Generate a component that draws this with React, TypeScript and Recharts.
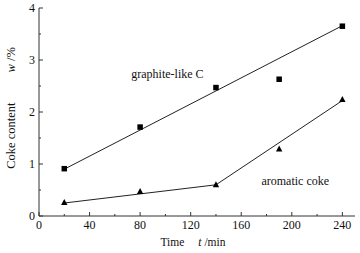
import React from "react";
import {
  ComposedChart,
  Scatter,
  XAxis,
  YAxis,
  ReferenceDot,
} from "recharts";

const timeMin = [20, 80, 140, 190, 240];
const graphiteC = [0.91, 1.71, 2.47, 2.63, 3.65];
const aromaticCoke = [0.26, 0.47, 0.6, 1.29, 2.24];

// fitted lines drawn through the points
const graphiteFitT = [20, 240];
const graphiteFitW = [0.9, 3.66];
const aromaticFitT = [20, 140, 240];
const aromaticFitW = [0.25, 0.6, 2.22];

const xTicks = [0, 20, 40, 60, 80, 100, 120, 140, 160, 180, 200, 220, 240];
const yTicks = [0, 0.5, 1, 1.5, 2, 2.5, 3, 3.5, 4];

const FONT = "Liberation Serif";
const AXIS = "#333";

const toPoints = (ts: number[], ws: number[]) =>
  ts.map((t, i) => ({ t, w: ws[i] }));

const graphiteData = toPoints(timeMin, graphiteC);
const aromaticData = toPoints(timeMin, aromaticCoke);
const graphiteFit = toPoints(graphiteFitT, graphiteFitW);
const aromaticFit = toPoints(aromaticFitT, aromaticFitW);

const XTick = (props: any) => {
  const { x, y, payload } = props;
  const major = payload.value % 40 === 0;
  return (
    <g>
      <line x1={x} x2={x} y1={y} y2={y - (major ? 4 : 2)} stroke={AXIS} />
      {major && (
        <text x={x} y={y + 13} textAnchor="middle" fontSize={12} style={{ fontFamily: FONT }} fill="#111">
          {payload.value}
        </text>
      )}
    </g>
  );
};

const YTick = (props: any) => {
  const { x, y, payload } = props;
  const major = Number.isInteger(payload.value);
  return (
    <g>
      <line x1={x} x2={x + (major ? 4 : 2)} y1={y} y2={y} stroke={AXIS} />
      {major && (
        <text x={x - 4} y={y + 4} textAnchor="end" fontSize={12} style={{ fontFamily: FONT }} fill="#111">
          {payload.value}
        </text>
      )}
    </g>
  );
};

const Square = (p: any) => (
  <rect x={p.cx - 2.75} y={p.cy - 2.75} width={5.5} height={5.5} fill="#000" />
);

const Triangle = (p: any) => (
  <polygon
    points={`${p.cx},${p.cy - 3.5} ${p.cx - 3.2},${p.cy + 2.5} ${p.cx + 3.2},${p.cy + 2.5}`}
    fill="#000"
  />
);

const NoDot = () => <g />;

const TextAt = (text: string) => (p: any) => (
  <text x={p.cx} y={p.cy} fontSize={12} style={{ fontFamily: FONT }} fill="#111">
    {text}
  </text>
);

export default function App() {
  return (
    <div style={{ position: "absolute", left: 0, top: 0, background: "#fff", fontFamily: FONT }}>
      <ComposedChart
        width={360}
        height={253}
        margin={{ top: 8, right: 5, bottom: 0, left: 0 }}
      >
        <XAxis
          xAxisId="x"
          dataKey="t"
          type="number"
          domain={[0, 250]}
          ticks={xTicks}
          interval={0}
          height={37}
          tickSize={0}
          tickMargin={0}
          tick={<XTick />}
          axisLine={{ stroke: AXIS }}
        />
        <XAxis
          xAxisId="top"
          orientation="top"
          type="number"
          domain={[0, 250]}
          height={0}
          tick={false}
          tickLine={false}
          axisLine={{ stroke: AXIS }}
        />
        <YAxis
          yAxisId="y"
          dataKey="w"
          type="number"
          domain={[0, 4]}
          ticks={yTicks}
          interval={0}
          width={39}
          tickSize={0}
          tickMargin={0}
          tick={<YTick />}
          axisLine={{ stroke: AXIS }}
        />
        <YAxis
          yAxisId="right"
          orientation="right"
          type="number"
          domain={[0, 4]}
          width={0}
          tick={false}
          tickLine={false}
          axisLine={{ stroke: AXIS }}
        />
        <Scatter
          xAxisId="x"
          yAxisId="y"
          data={graphiteFit}
          line={{ stroke: "#222", strokeWidth: 1 }}
          shape={NoDot}
          isAnimationActive={false}
        />
        <Scatter
          xAxisId="x"
          yAxisId="y"
          data={aromaticFit}
          line={{ stroke: "#222", strokeWidth: 1 }}
          shape={NoDot}
          isAnimationActive={false}
        />
        <Scatter
          xAxisId="x"
          yAxisId="y"
          data={graphiteData}
          shape={Square}
          isAnimationActive={false}
        />
        <Scatter
          xAxisId="x"
          yAxisId="y"
          data={aromaticData}
          shape={Triangle}
          isAnimationActive={false}
        />
        <ReferenceDot xAxisId="x" yAxisId="y" x={73} y={2.66} r={0} shape={TextAt("graphite-like C")} />
        <ReferenceDot xAxisId="x" yAxisId="y" x={176} y={0.6} r={0} shape={TextAt("aromatic coke")} />
        <text
          transform="translate(15, 108) rotate(-90)"
          textAnchor="middle"
          fontSize={12.5}
          style={{ fontFamily: FONT }}
          fill="#111"
        >
          Coke content
          <tspan dx={30} fontStyle="italic">w</tspan>
          <tspan> /%</tspan>
        </text>
        <text x={193} y={246} textAnchor="middle" fontSize={11.5} style={{ fontFamily: FONT }} fill="#111">
          Time
          <tspan dx={14} fontStyle="italic">t</tspan>
          <tspan> /min</tspan>
        </text>
      </ComposedChart>
    </div>
  );
}
